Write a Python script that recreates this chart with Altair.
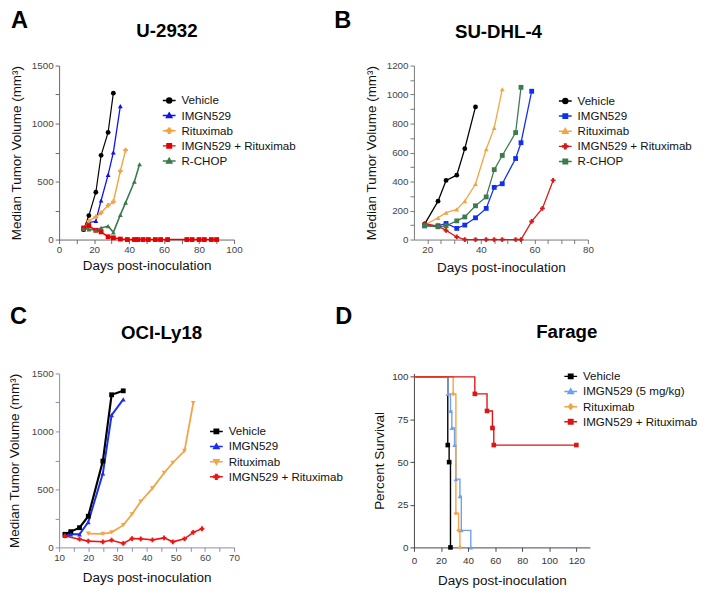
import altair as alt
import pandas as pd

FONT = "Arial, Liberation Sans, Helvetica, sans-serif"
TICKFONT = "Liberation Sans Narrow, Arial Narrow, Arial, Liberation Sans, sans-serif"

# ---------------- Panel A : U-2932 ----------------
A_series = ["Vehicle", "IMGN529", "Rituximab", "IMGN529 + Rituximab", "R-CHOP"]
A_days = {
    "Vehicle": [14, 17, 21, 24, 28, 31],
    "IMGN529": [14, 17, 21, 24, 28, 31, 35],
    "Rituximab": [14, 17, 21, 24, 28, 31, 35, 38],
    "IMGN529 + Rituximab": [14, 17, 21, 24, 28, 31, 35, 39, 43, 45, 48, 51, 55, 58, 62, 73, 76, 80, 83, 87, 90],
    "R-CHOP": [14, 17, 21, 24, 28, 31, 35, 38, 43, 46],
}
A_vals = {
    "Vehicle": [85, 207, 408, 726, 924, 1262],
    "IMGN529": [90, 145, 160, 337, 558, 751, 1151],
    "Rituximab": [95, 160, 195, 230, 295, 326, 590, 771],
    "IMGN529 + Rituximab": [100, 118, 80, 66, 24, 15, 4, 0, 0, 0, 0, 0, 0, 0, 0, 0, 0, 0, 0, 0, 0],
    "R-CHOP": [95, 88, 82, 100, 116, 62, 213, 318, 499, 649],
}
A_colors = ["#000000", "#1010f0", "#f3a23f", "#e60000", "#3b7a4c"]
A_shapes = ["circle", "triangle-up", "cross", "square", "triangle-up"]
A_widths = [1.2, 1.6, 1.6, 2.0, 1.6]

# ---------------- Panel B : SU-DHL-4 ----------------
B_series = ["Vehicle", "IMGN529", "Rituximab", "IMGN529 + Rituximab", "R-CHOP"]
B_days = {
    "Vehicle": [19, 24, 27, 31, 34, 38],
    "IMGN529": [19, 24, 27, 31, 34, 38, 42, 45, 48, 53, 55, 59],
    "Rituximab": [19, 24, 27, 31, 34, 38, 42, 45, 48],
    "IMGN529 + Rituximab": [19, 24, 27, 31, 34, 38, 42, 45, 48, 53, 55, 59, 63, 67],
    "R-CHOP": [19, 24, 27, 31, 34, 38, 42, 45, 48, 53, 55],
}
B_vals = {
    "Vehicle": [106, 265, 408, 444, 627, 915],
    "IMGN529": [95, 95, 111, 77, 100, 150, 215, 360, 385, 559, 668, 1023],
    "Rituximab": [100, 150, 186, 208, 265, 383, 623, 770, 1037],
    "IMGN529 + Rituximab": [110, 92, 63, 18, 0, 0, 0, 0, 0, 0, 0, 125, 215, 408],
    "R-CHOP": [95, 88, 95, 129, 156, 233, 294, 482, 580, 738, 1050],
}
B_colors = ["#000000", "#1030f0", "#f3a440", "#d41a1a", "#3d7a4e"]
B_shapes = ["circle", "square", "triangle-up", "cross", "square"]
B_widths = [1.3, 1.3, 1.3, 1.6, 1.3]

# ---------------- Panel C : OCI-Ly18 ----------------
C_series = ["Vehicle", "IMGN529", "Rituximab", "IMGN529 + Rituximab"]
C_days = {
    "Vehicle": [12, 14, 17, 20, 25, 28, 32],
    "IMGN529": [12, 14, 17, 20, 25, 28, 32],
    "Rituximab": [20, 25, 28, 32, 35, 38, 42, 46, 49, 53, 56],
    "IMGN529 + Rituximab": [12, 17, 20, 25, 28, 32, 35, 38, 42, 46, 49, 53, 56, 59],
}
C_vals = {
    "Vehicle": [113, 136, 170, 269, 744, 1316, 1350],
    "IMGN529": [99, 113, 113, 218, 637, 1141, 1277],
    "Rituximab": [119, 116, 130, 192, 286, 396, 509, 642, 730, 832, 1245],
    "IMGN529 + Rituximab": [99, 71, 54, 48, 62, 34, 76, 74, 65, 82, 48, 74, 130, 161],
}
C_colors = ["#000000", "#1a2ff0", "#f2a446", "#ee1515"]
C_shapes = ["square", "triangle-up", "triangle-down", "cross"]
C_widths = [2.2, 1.6, 1.6, 1.6]

# ---------------- Panel D : Farage (survival) ----------------
D_series = ["Vehicle", "IMGN529 (5 mg/kg)", "Rituximab", "IMGN529 + Rituximab"]
D_days = {
    "Vehicle": [25, 26, 27],
    "IMGN529 (5 mg/kg)": [25, 27, 28, 30, 31, 34, 35, 42],
    "Rituximab": [29, 31, 33, 34],
    "IMGN529 + Rituximab": [45, 54, 58, 59, 120],
}
D_vals = {
    "Vehicle": [60, 50, 0],
    "IMGN529 (5 mg/kg)": [90, 80, 70, 60, 40, 30, 10, 0],
    "Rituximab": [90, 20, 10, 0],
    "IMGN529 + Rituximab": [90, 80, 70, 60, 60],
}
D_start_day = 0
D_start_val = 100
D_colors = ["#000000", "#6f9ff0", "#f2a446", "#dd1515"]
D_shapes = ["square", "triangle-up", "diamond", "square"]
D_widths = [1.4, 1.4, 1.4, 1.4]

# legend symbols: short line with marker
LINE = "M-1.3,0H1.3"
LEG_PATH = {
    "circle": LINE + "M-0.5,0A0.5,0.5 0 1,1 0.5,0A0.5,0.5 0 1,1 -0.5,0Z",
    "square": LINE + "M-0.45,-0.45H0.45V0.45H-0.45Z",
    "triangle-up": LINE + "M0,-0.55L0.55,0.4H-0.55Z",
    "triangle-down": LINE + "M0,0.55L0.55,-0.4H-0.55Z",
    "diamond": LINE + "M0,-0.55L0.45,0L0,0.55L-0.45,0Z",
    "cross": LINE + "M-0.5,-0.15H-0.15V-0.5H0.15V-0.15H0.5V0.15H0.15V0.5H-0.15V0.15H-0.5Z",
}


def long_df(series, days, vals, start=None):
    rows = []
    for s in series:
        if start is not None:
            rows.append({"series": s, "day": start[0], "value": start[1]})
        for d, v in zip(days[s], vals[s]):
            rows.append({"series": s, "day": d, "value": v})
    return pd.DataFrame(rows)


def panel(line_df, point_df, series, colors, shapes, widths, xdom, ydom, xvals, xmod,
          yvals, ymod, W, H, leg_xy, letter, letter_xy, title, title_xy, ytitle,
          axis_color, label_color, xlabel_pad, xtitle_pad, ytitle_pad, step=False,
          msize=24):
    common = dict(tickSize=4, tickColor=axis_color, domainColor=axis_color,
                  labelColor=label_color, labelFont=TICKFONT, labelFontSize=10,
                  labelOverlap=False, labelFlush=False, grid=False, titleFont=FONT,
                  titleFontSize=13.7, titleFontWeight="normal", titleColor="#111111")
    xaxis = alt.Axis(values=xvals, tickCount=len(xvals) + 5,
                     labelExpr=f"datum.value % {xmod} === 0 ? '' + datum.value : ''",
                     labelPadding=xlabel_pad, title="Days post-inoculation",
                     titlePadding=xtitle_pad, **common)
    yaxis = alt.Axis(values=yvals, tickCount=len(yvals) + 5,
                     labelExpr=f"datum.value % {ymod} === 0 ? '' + datum.value : ''",
                     labelPadding=2, title=ytitle, titlePadding=ytitle_pad, **common)
    xs = alt.Scale(domain=xdom, nice=False, zero=False)
    ys = alt.Scale(domain=ydom, nice=False)
    cscale = alt.Scale(domain=series, range=colors)

    line = alt.Chart(line_df).mark_line(interpolate="step-after" if step else "linear").encode(
        x=alt.X("day:Q", scale=xs, axis=xaxis),
        y=alt.Y("value:Q", scale=ys, axis=yaxis),
        color=alt.Color("series:N", scale=cscale, legend=None),
        strokeWidth=alt.StrokeWidth("series:N", scale=alt.Scale(domain=series, range=widths), legend=None),
    )
    pts = alt.Chart(point_df).mark_point(filled=True, size=msize, opacity=1).encode(
        x="day:Q", y="value:Q",
        color=alt.Color("series:N", scale=cscale, legend=None),
        shape=alt.Shape("series:N", scale=alt.Scale(domain=series, range=shapes), legend=None),
    )
    leg = alt.Legend(title=None, orient="none", legendX=leg_xy[0], legendY=leg_xy[1],
                     labelFont=FONT, labelFontSize=11.8, labelColor="#111111",
                     symbolSize=100, symbolStrokeWidth=1.5, symbolOpacity=1,
                     rowPadding=2.4, labelOffset=6.5, padding=0, labelLimit=300)
    legend_layer = alt.Chart(point_df).mark_point(filled=True).encode(
        x="day:Q", y="value:Q",
        color=alt.Color("series:N", scale=cscale, legend=leg),
        stroke=alt.Stroke("series:N", scale=cscale, legend=leg),
        shape=alt.Shape("series:N", scale=alt.Scale(domain=series, range=[LEG_PATH[s] for s in shapes]), legend=leg),
    ).transform_filter("false")

    letter_t = alt.Chart(pd.DataFrame({"t": [letter]})).mark_text(
        align="left", baseline="alphabetic", font=FONT, fontSize=24, fontWeight="bold", color="#000000"
    ).encode(text="t:N", x=alt.value(letter_xy[0]), y=alt.value(letter_xy[1]))
    title_t = alt.Chart(pd.DataFrame({"t": [title]})).mark_text(
        align="center", baseline="alphabetic", font=FONT, fontSize=19, fontWeight="bold", color="#000000"
    ).encode(text="t:N", x=alt.value(title_xy[0]), y=alt.value(title_xy[1]))

    return alt.layer(line, pts, legend_layer, letter_t, title_t).resolve_scale(
        color="independent", shape="independent", stroke="independent", strokeWidth="independent"
    ).properties(width=W, height=H)


YT = "Median Tumor Volume (mm³)"

pA = panel(long_df(A_series, A_days, A_vals), long_df(A_series, A_days, A_vals),
           A_series, A_colors, A_shapes, A_widths, [0, 100], [0, 1500],
           list(range(0, 101, 10)), 20, list(range(0, 1501, 250)), 500, 178, 177,
           (106, 29.5), "A", (-49, -38), "U-2932", (109.7, -29), YT,
           "#666666", "#444444", 1, 4, 8)

pB = panel(long_df(B_series, B_days, B_vals), long_df(B_series, B_days, B_vals),
           B_series, B_colors, B_shapes, B_widths, [15, 80], [0, 1200],
           list(range(20, 81, 5)), 20, list(range(0, 1201, 100)), 200, 177, 177,
           (148, 30), "B", (-81, -38), "SU-DHL-4", (86, -28.3), YT,
           "#777777", "#444444", 1, 6, 8)

pC = panel(long_df(C_series, C_days, C_vals), long_df(C_series, C_days, C_vals),
           C_series, C_colors, C_shapes, C_widths, [10, 70], [0, 1500],
           list(range(10, 71, 5)), 10, list(range(0, 1501, 250)), 500, 178, 177,
           (154, 53), "C", (-50, -50), "OCI-Ly18", (104.3, -34.7), YT,
           "#8a8ab4", "#444444", 1, 9, 10)

pD = panel(long_df(D_series, D_days, D_vals, start=(D_start_day, D_start_val)),
           long_df(D_series, D_days, D_vals),
           D_series, D_colors, D_shapes, D_widths, [0, 130], [0, 102],
           list(range(0, 121, 20)), 20, list(range(0, 101, 25)), 25, 179, 177,
           (153.5, -3), "D", (-80, -50), "Farage", (155.5, -36), "Percent Survival",
           "#444444", "#333333", 4, 9, 5, step=True, msize=22)

chart = alt.concat(pA, pB, pC, pD, columns=2, spacing={"row": 136.2, "column": 183},
                   bounds="flush").resolve_scale(
    color="independent", shape="independent", stroke="independent", strokeWidth="independent"
).properties(padding={"left": -1, "top": -3.5, "right": 0, "bottom": 0}).configure_view(stroke=None)

chart.save("out.html", embed_options={"renderer": "svg", "actions": False})
